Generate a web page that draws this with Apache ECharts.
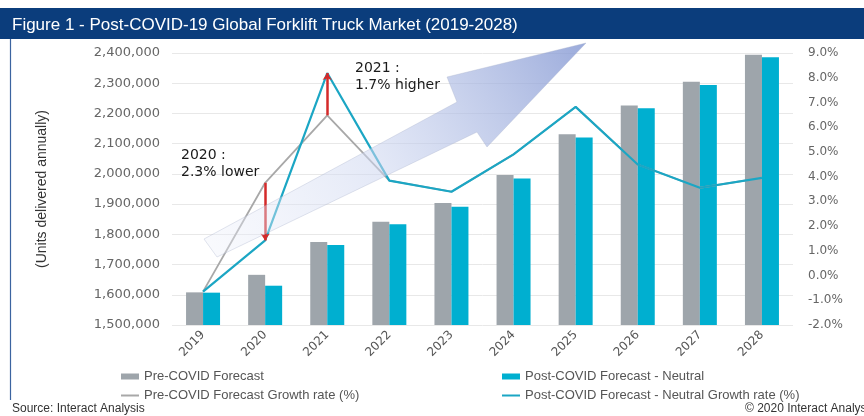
<!DOCTYPE html>
<html>
<head>
<meta charset="utf-8">
<title>Post-COVID-19 Global Forklift Truck Market</title>
<script src="https://cdn.jsdelivr.net/npm/echarts@6/dist/echarts.min.js"></script>
<style>
  html, body { margin: 0; padding: 0; background: #fff; }
  #chart { width: 864px; height: 416px; }
</style>
</head>
<body>
<div id="chart"></div>
<script>
// data
const years = ['2019', '2020', '2021', '2022', '2023', '2024', '2025', '2026', '2027', '2028'];
const preCovidUnits = [1608000, 1666000, 1775000, 1842000, 1904000, 1996000, 2131000, 2226000, 2305000, 2394000];
const postCovidUnits = [1607000, 1630000, 1765000, 1833000, 1891000, 1985000, 2120000, 2217000, 2294000, 2386000];
const preCovidGrowth = [-0.65, 3.75, 6.48, 3.84, 3.39, 4.9, 6.82, 4.49, 3.55, 3.95];
const postCovidGrowth = [-0.65, 1.42, 8.19, 3.84, 3.39, 4.9, 6.82, 4.49, 3.55, 3.95];
const seriesNames = [
  'Pre-COVID Forecast',
  'Post-COVID Forecast - Neutral',
  'Pre-COVID Forecast Growth rate (%)',
  'Post-COVID Forecast - Neutral Growth rate (%)'
];

const GRAY = '#9ea5ab';
const TEAL = '#00afd0';
const GRAY_LINE = '#a8a8a8';
const TEAL_LINE = '#1ba6c4';
const RED = '#d42a2a';
const FONT = 'Liberation Sans, Arial, sans-serif';

const chart = echarts.init(document.getElementById('chart'));

// red arrows between the two growth lines (2020 and 2021)
const gapArrow = (i) => [
  { coord: [years[i], preCovidGrowth[i]] },
  { coord: [years[i], postCovidGrowth[i]] }
];

const legendItem = (name, left, top, isLine) => ({
  data: [name],
  left: left,
  top: top,
  itemWidth: 18,
  itemHeight: isLine ? 2 : 6,
  icon: 'rect',
  textStyle: { color: '#555', fontSize: 13, fontFamily: FONT },
  selectedMode: false
});

chart.setOption({
  animation: false,
  backgroundColor: '#fff',
  title: {
    text: 'Figure 1 - Post-COVID-19 Global Forklift Truck Market (2019-2028)',
    left: 7,
    top: 12,
    textStyle: { color: '#fff', fontSize: 17, fontWeight: 'normal', fontFamily: FONT }
  },
  legend: [
    legendItem(seriesNames[0], 116, 365, false),
    legendItem(seriesNames[1], 497, 365, false),
    legendItem(seriesNames[2], 116, 384, true),
    legendItem(seriesNames[3], 497, 384, true)
  ],
  grid: { left: 172, right: 71, top: 53, bottom: 91 },
  xAxis: {
    type: 'category',
    data: years,
    axisLine: { show: false },
    axisTick: { show: false },
    axisLabel: { rotate: 45, color: '#555', fontSize: 12, fontFamily: 'DejaVu Sans, sans-serif', margin: 8 }
  },
  yAxis: [
    {
      type: 'value',
      min: 1500000,
      max: 2400000,
      interval: 100000,
      name: '(Units delivered annually)',
      nameLocation: 'middle',
      nameGap: 123,
      nameTextStyle: { color: '#333', fontSize: 14, fontFamily: FONT },
      axisLine: { show: false },
      axisTick: { show: false },
      axisLabel: {
        color: '#666',
        fontSize: 13,
        fontFamily: 'DejaVu Sans, sans-serif',
        margin: 12,
        formatter: (v) => v.toLocaleString('en-US')
      },
      splitLine: { lineStyle: { color: '#e8e8e8', width: 1 } }
    },
    {
      type: 'value',
      min: -2,
      max: 9,
      interval: 1,
      axisLine: { show: false },
      axisTick: { show: false },
      axisLabel: {
        color: '#666',
        fontSize: 12,
        fontFamily: 'DejaVu Sans, sans-serif',
        margin: 15,
        formatter: (v) => v.toFixed(1) + '%'
      },
      splitLine: { show: false }
    }
  ],
  series: [
    {
      name: seriesNames[0],
      type: 'bar',
      data: preCovidUnits,
      barWidth: 17,
      barGap: '0%',
      itemStyle: { color: GRAY }
    },
    {
      name: seriesNames[1],
      type: 'bar',
      data: postCovidUnits,
      barWidth: 17,
      itemStyle: { color: TEAL }
    },
    {
      name: seriesNames[2],
      type: 'line',
      yAxisIndex: 1,
      data: preCovidGrowth,
      showSymbol: false,
      symbol: 'none',
      lineStyle: { color: GRAY_LINE, width: 1.8 },
      itemStyle: { color: GRAY_LINE },
      z: 3
    },
    {
      name: seriesNames[3],
      type: 'line',
      yAxisIndex: 1,
      data: postCovidGrowth,
      showSymbol: false,
      symbol: 'none',
      lineStyle: { color: TEAL_LINE, width: 2.2 },
      itemStyle: { color: TEAL_LINE },
      z: 4,
      markLine: {
        silent: true,
        symbol: ['none', 'arrow'],
        symbolSize: 7,
        label: { show: false },
        lineStyle: { color: RED, width: 2.5, type: 'solid' },
        data: [gapArrow(1), gapArrow(2)]
      }
    }
  ],
  graphic: [
    // title band
    { type: 'rect', left: 0, top: 8, z: -1, shape: { width: 864, height: 31 }, style: { fill: '#0b3d7c' } },
    // left frame line
    { type: 'line', z: 1, shape: { x1: 10.5, y1: 39, x2: 10.5, y2: 400 }, style: { stroke: '#3b64a0', lineWidth: 1.2 } },
    // big trend arrow (decoration)
    {
      type: 'polygon',
      z: 100,
      shape: {
        points: [[204, 239], [457, 102], [447, 77], [586, 43], [487, 147], [477, 132], [217, 257]]
      },
      style: {
        fill: {
          type: 'linear', x: 0, y: 1, x2: 1, y2: 0,
          colorStops: [
            { offset: 0, color: 'rgba(238,241,250,0.35)' },
            { offset: 0.45, color: 'rgba(205,214,240,0.55)' },
            { offset: 1, color: 'rgba(130,150,210,0.8)' }
          ]
        },
        stroke: 'rgba(170,180,205,0.45)',
        lineWidth: 0.8
      }
    },
    // annotations
    { type: 'text', left: 181, top: 148, z: 101, style: { text: '2020 :', fill: '#1a1a1a', font: '14px DejaVu Sans, sans-serif' } },
    { type: 'text', left: 181, top: 165, z: 101, style: { text: '2.3% lower', fill: '#1a1a1a', font: '14px DejaVu Sans, sans-serif' } },
    { type: 'text', left: 355, top: 61, z: 101, style: { text: '2021 :', fill: '#1a1a1a', font: '14px DejaVu Sans, sans-serif' } },
    { type: 'text', left: 355, top: 78, z: 101, style: { text: '1.7% higher', fill: '#1a1a1a', font: '14px DejaVu Sans, sans-serif' } },
    // footer
    { type: 'text', left: 12, top: 403, style: { text: 'Source: Interact Analysis', fill: '#333', font: '12px ' + FONT } },
    { type: 'text', left: 745, top: 403, style: { text: '\u00a9 2020 Interact Analysis', fill: '#333', font: '12px ' + FONT } }
  ]
});
</script>
</body>
</html>
